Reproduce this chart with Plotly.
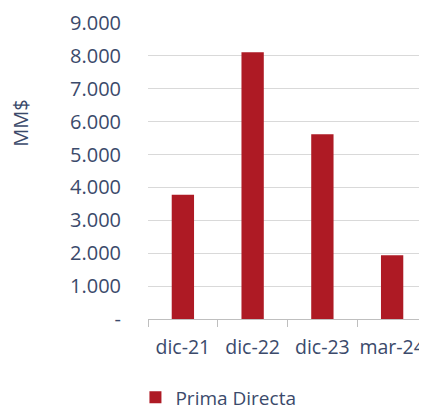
import plotly.graph_objects as go

categories = ["dic-21", "dic-22", "dic-23", "mar-24"]
prima_directa = [3780, 8110, 5620, 1940]
tick_vals = [0, 1000, 2000, 3000, 4000, 5000, 6000, 7000, 8000, 9000]
tick_text = ["-", "1.000", "2.000", "3.000", "4.000", "5.000", "6.000", "7.000", "8.000", "9.000"]

font_color = "#3B4A6B"
font_family = "Open Sans, Noto Sans, sans-serif"

fig = go.Figure()
fig.add_trace(go.Bar(
    x=categories, y=prima_directa, name="Prima Directa",
    marker=dict(color="#AE1A24", line=dict(width=0)),
    width=0.32,
))

# page body has an 8px default margin, so the figure is sized to fit the window
fig.update_layout(
    width=419, height=402,
    margin=dict(l=140, r=0, t=15, b=91, autoexpand=False),
    plot_bgcolor="white", paper_bgcolor="white",
    font=dict(family=font_family, size=19, color=font_color),
    showlegend=True,
    legend=dict(orientation="h", x=-0.045, y=-0.265, xanchor="left", yanchor="middle",
                font=dict(size=19, color=font_color), itemwidth=30),
    annotations=[dict(text="MM$", textangle=-90, xref="paper", yref="paper",
                      x=-0.455, y=0.66, xanchor="center", yanchor="middle",
                      showarrow=False, font=dict(size=20, color=font_color))],
)
fig.update_yaxes(
    range=[0, 9000], tickvals=tick_vals, ticktext=tick_text,
    showgrid=True, gridcolor="#D9D9D9", gridwidth=1, automargin=False,
    zeroline=False, showline=False, ticks="", ticklabelstandoff=26,
    tickfont=dict(size=20, color=font_color),
)
fig.update_xaxes(
    showline=True, linecolor="#BFBFBF", linewidth=1, tickangle=0, automargin=False,
    ticks="outside", tickson="boundaries", ticklen=7, tickcolor="#BFBFBF",
    showgrid=False, tickfont=dict(size=19.5, color=font_color), ticklabelstandoff=11,
)
fig.write_html("out.html")
